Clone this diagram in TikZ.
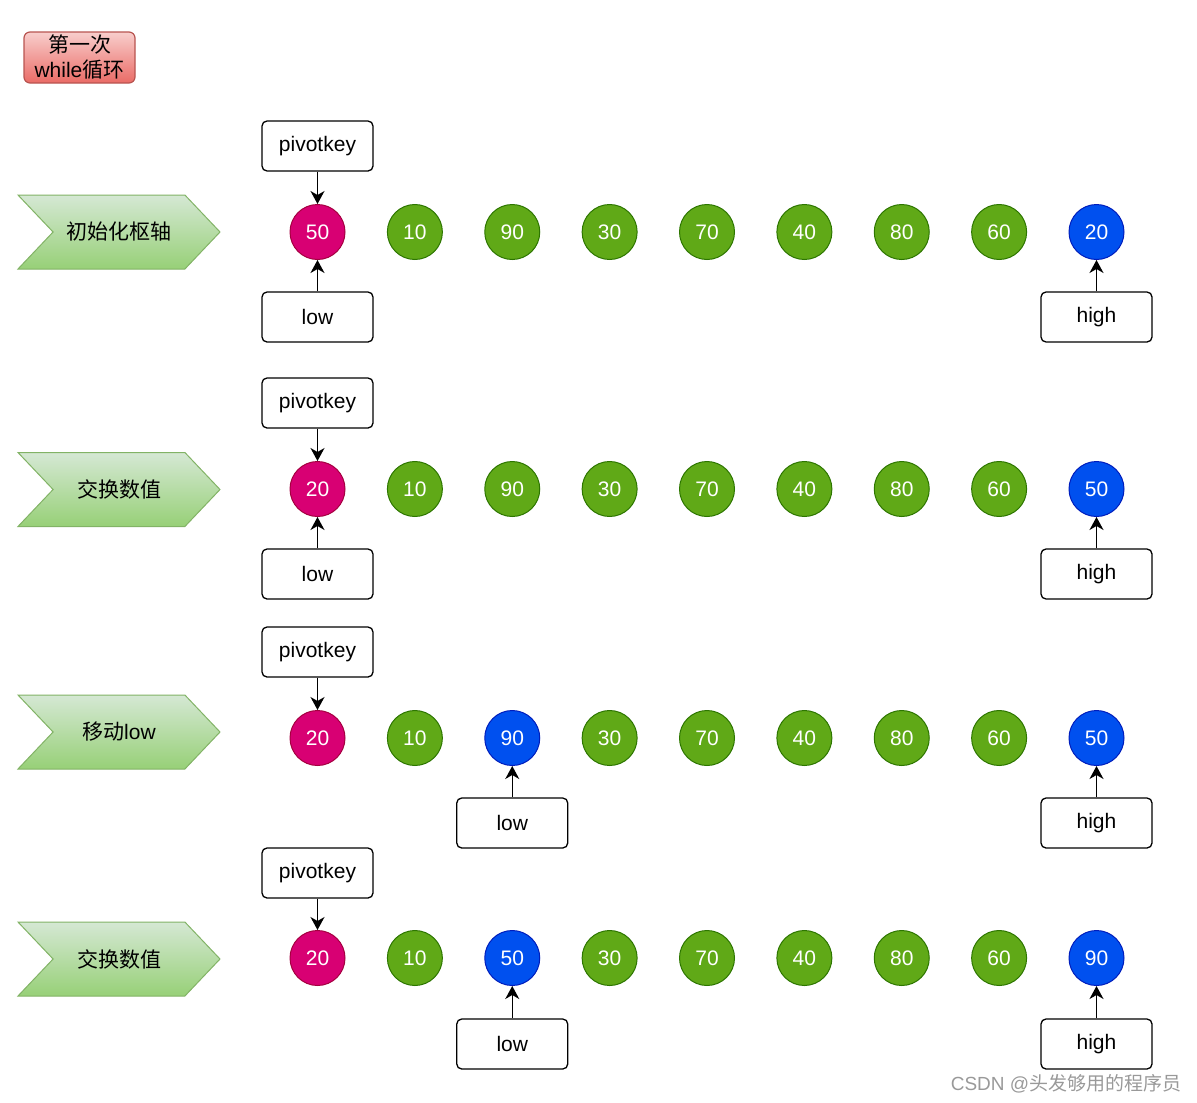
\documentclass[tikz,border=0pt]{standalone}
\usepackage{fontspec}
\setmainfont{Liberation Sans}
\newfontfamily\cjk{Noto Sans CJK SC}
\usepackage{tikz}
\usetikzlibrary{shapes.symbols, arrows.meta}
\definecolor{pivfill}{HTML}{D80073}
\definecolor{pivline}{HTML}{A50040}
\definecolor{numfill}{HTML}{60A917}
\definecolor{numline}{HTML}{2D7600}
\definecolor{movfill}{HTML}{0050EF}
\definecolor{movline}{HTML}{001DBC}
\definecolor{stagetop}{HTML}{D5E8D4}
\definecolor{stagebot}{HTML}{97D077}
\definecolor{stageline}{HTML}{82B366}
\definecolor{titletop}{HTML}{F8CECC}
\definecolor{titlebot}{HTML}{EA6B66}
\definecolor{titleline}{HTML}{B85450}
\tikzstyle{arrow} = [line width=1.4pt,-{Stealth[length=13pt,width=14pt,inset=4pt]}]
\tikzstyle{num} = [circle, minimum size=55pt, inner sep=0pt, line width=1pt, text=white, font=\fontsize{21}{25}\selectfont, fill=numfill, draw=numline]
\tikzstyle{piv} = [num, fill=pivfill, draw=pivline]
\tikzstyle{mov} = [num, fill=movfill, draw=movline]
\tikzstyle{tag} = [draw, rounded corners=5pt, line width=1.3pt, minimum width=111pt, minimum height=50pt, inner sep=0pt, font=\fontsize{21}{25}\selectfont]
\tikzstyle{stage} = [signal, signal to=east, signal from=west, signal pointer angle=93, minimum width=202pt, minimum height=74pt, inner sep=0pt, line width=1pt, draw=stageline, top color=stagetop, bottom color=stagebot, font=\fontsize{21}{25}\selectfont]

\begin{document}
\begin{tikzpicture}[x=1pt, y=-1pt]
	\useasboundingbox (0,0) rectangle (1197,1103);
	\node[draw=titleline, line width=1.2pt, rounded corners=6pt, top color=titletop, bottom color=titlebot, minimum width=111pt, minimum height=51pt, inner sep=0pt, align=center, font=\fontsize{21}{25}\selectfont] (title) at (79.5,57.5) {{\cjk 第一次}\\while{\cjk 循环}};

	% row 1
	\node[stage] (s1) at (119,232) {\cjk 初始化枢轴};
	\foreach \v/\s [count=\i] in {50/piv,10/num,90/num,30/num,70/num,40/num,80/num,60/num,20/mov}
		\node[\s] (r1c\i) at ({317.5+97.375*(\i-1)},232) {\v};
	\node[tag] (p1) at (317.5,146) {pivotkey};
	\node[tag] (l1) at (317.5,317) {low};
	\node[tag] (h1) at (1096.5,317) {high};
	\draw[arrow] (p1) -- (r1c1);
	\draw[arrow] (l1) -- (r1c1);
	\draw[arrow] (h1) -- (r1c9);

	% row 2
	\node[stage] (s2) at (119,489.5) {\cjk 交换数值};
	\foreach \v/\s [count=\i] in {20/piv,10/num,90/num,30/num,70/num,40/num,80/num,60/num,50/mov}
		\node[\s] (r2c\i) at ({317.5+97.375*(\i-1)},489) {\v};
	\node[tag] (p2) at (317.5,403) {pivotkey};
	\node[tag] (l2) at (317.5,574) {low};
	\node[tag] (h2) at (1096.5,574) {high};
	\draw[arrow] (p2) -- (r2c1);
	\draw[arrow] (l2) -- (r2c1);
	\draw[arrow] (h2) -- (r2c9);

	% row 3
	\node[stage] (s3) at (119,732) {{\cjk 移动}low};
	\foreach \v/\s [count=\i] in {20/piv,10/num,90/mov,30/num,70/num,40/num,80/num,60/num,50/mov}
		\node[\s] (r3c\i) at ({317.5+97.375*(\i-1)},738) {\v};
	\node[tag] (p3) at (317.5,652) {pivotkey};
	\node[tag] (l3) at (512.25,823) {low};
	\node[tag] (h3) at (1096.5,823) {high};
	\draw[arrow] (p3) -- (r3c1);
	\draw[arrow] (l3) -- (r3c3);
	\draw[arrow] (h3) -- (r3c9);

	% row 4
	\node[stage] (s4) at (119,959) {\cjk 交换数值};
	\foreach \v/\s [count=\i] in {20/piv,10/num,50/mov,30/num,70/num,40/num,80/num,60/num,90/mov}
		\node[\s] (r4c\i) at ({317.5+97.375*(\i-1)},958) {\v};
	\node[tag] (p4) at (317.5,873) {pivotkey};
	\node[tag] (l4) at (512.25,1044) {low};
	\node[tag] (h4) at (1096.5,1044) {high};
	\draw[arrow] (p4) -- (r4c1);
	\draw[arrow] (l4) -- (r4c3);
	\draw[arrow] (h4) -- (r4c9);

	\node[text=black!40, font=\fontsize{19}{22}\selectfont] (mark) at (1066,1084) {CSDN @{\cjk 头发够用的程序员}};
\end{tikzpicture}
\end{document}
